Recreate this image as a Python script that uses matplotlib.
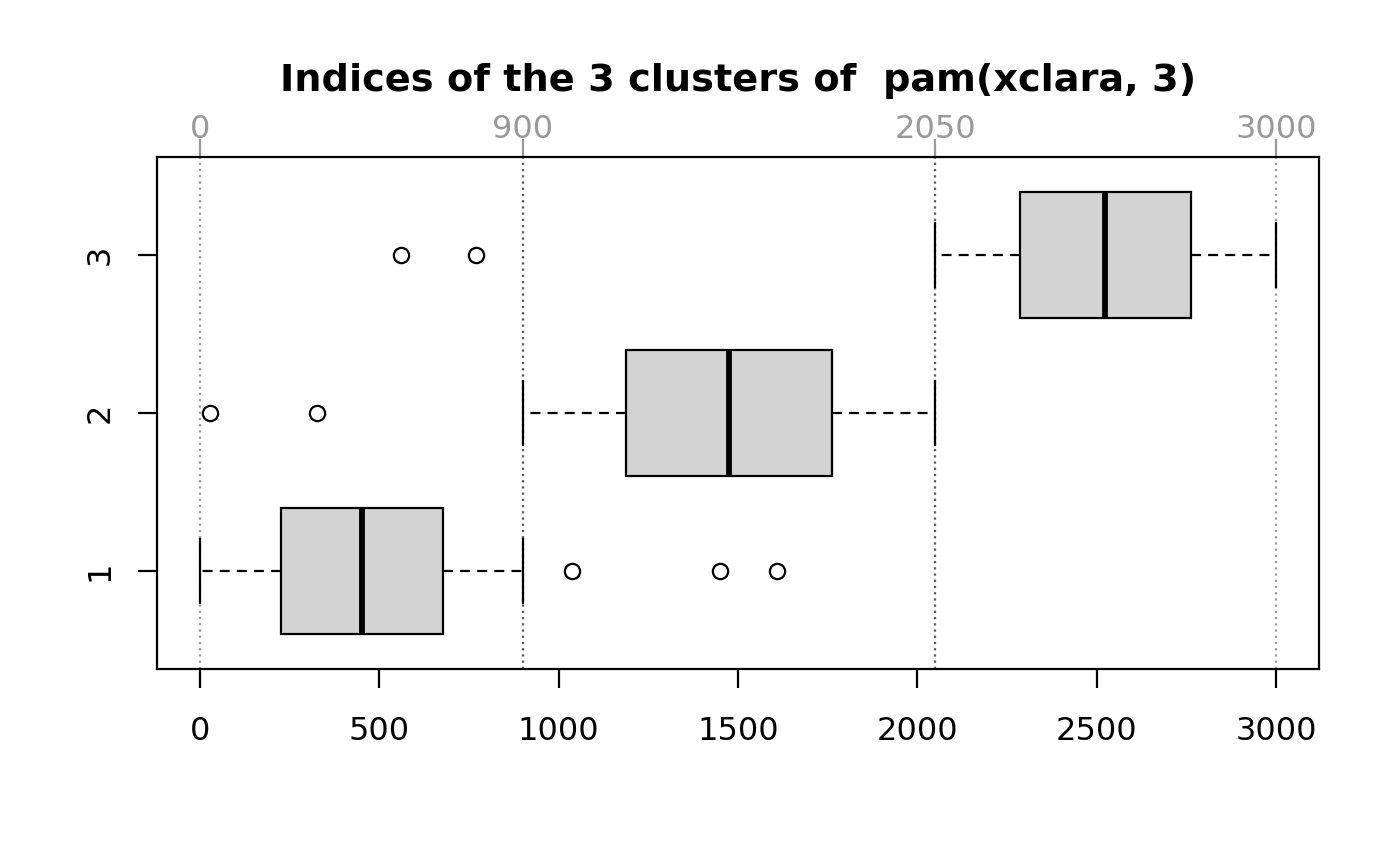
import matplotlib.pyplot as plt

# Cluster boxplot summary values
clusters = [1, 2, 3]
whislo = [0, 900, 2050]
q1 = [226, 1188, 2286]
med = [452, 1475, 2523]
q3 = [677, 1762, 2763]
whishi = [900, 2050, 3000]
fliers = [[1037, 1450, 1609], [28, 326], [560, 770]]

top_ticks = [0, 900, 2050, 3000]
bottom_ticks = [0, 500, 1000, 1500, 2000, 2500, 3000]

plt.rcParams['font.family'] = ['DejaVu Sans']

fig = plt.figure(figsize=(14, 8.66), dpi=100)
ax = fig.add_axes([0.1121, 0.2275, 0.83, 0.5912])

stats = []
for i in range(len(clusters)):
    stats.append(dict(whislo=whislo[i], q1=q1[i], med=med[i], q3=q3[i],
                      whishi=whishi[i], fliers=fliers[i], label=str(clusters[i])))

lw = 1.6
ax.bxp(stats, positions=clusters, vert=False, widths=0.8, patch_artist=True,
       boxprops=dict(facecolor='#d3d3d3', edgecolor='black', linewidth=lw),
       medianprops=dict(color='black', linewidth=4.2, solid_capstyle='butt'),
       whiskerprops=dict(color='black', linewidth=lw, linestyle=(0, (4.5, 3.2))),
       capprops=dict(color='black', linewidth=lw),
       capwidths=0.4,
       flierprops=dict(marker='o', markerfacecolor='none', markeredgecolor='black',
                       markersize=11, markeredgewidth=lw),
       zorder=3)

# cluster boundaries (start and end of each cluster, overlapping ones look darker)
for s, e in zip(whislo, whishi):
    ax.axvline(s, color='black', alpha=0.4, linestyle=(0, (1.0, 1.8)), linewidth=lw, zorder=1)
    ax.axvline(e, color='black', alpha=0.4, linestyle=(0, (1.0, 1.8)), linewidth=lw, zorder=1)

ax.set_xlim(-120, 3120)
ax.set_ylim(0.38, 3.62)

ax.set_xticks(bottom_ticks)
ax.set_xticklabels([str(t) for t in bottom_ticks])
ax.set_yticks(clusters)
ax.set_yticklabels([str(c) for c in clusters], rotation=90, va='center')
ax.tick_params(axis='x', length=14, width=lw, labelsize=23, pad=20)
ax.tick_params(axis='y', length=14, width=lw, labelsize=23, pad=16)
for sp in ax.spines.values():
    sp.set_linewidth(lw)

top = ax.secondary_xaxis('top')
top.set_xticks(top_ticks)
top.set_xticklabels([str(t) for t in top_ticks])
top.tick_params(axis='x', length=13, width=lw, colors='#999999', labelsize=23, pad=-4)
top.spines['top'].set_visible(False)

fig.text(0.527, 0.907, 'Indices of the 3 clusters of  pam(xclara, 3)',
         ha='center', va='center', fontsize=27.5, fontweight='bold')

fig.savefig('out.png', dpi=100)
